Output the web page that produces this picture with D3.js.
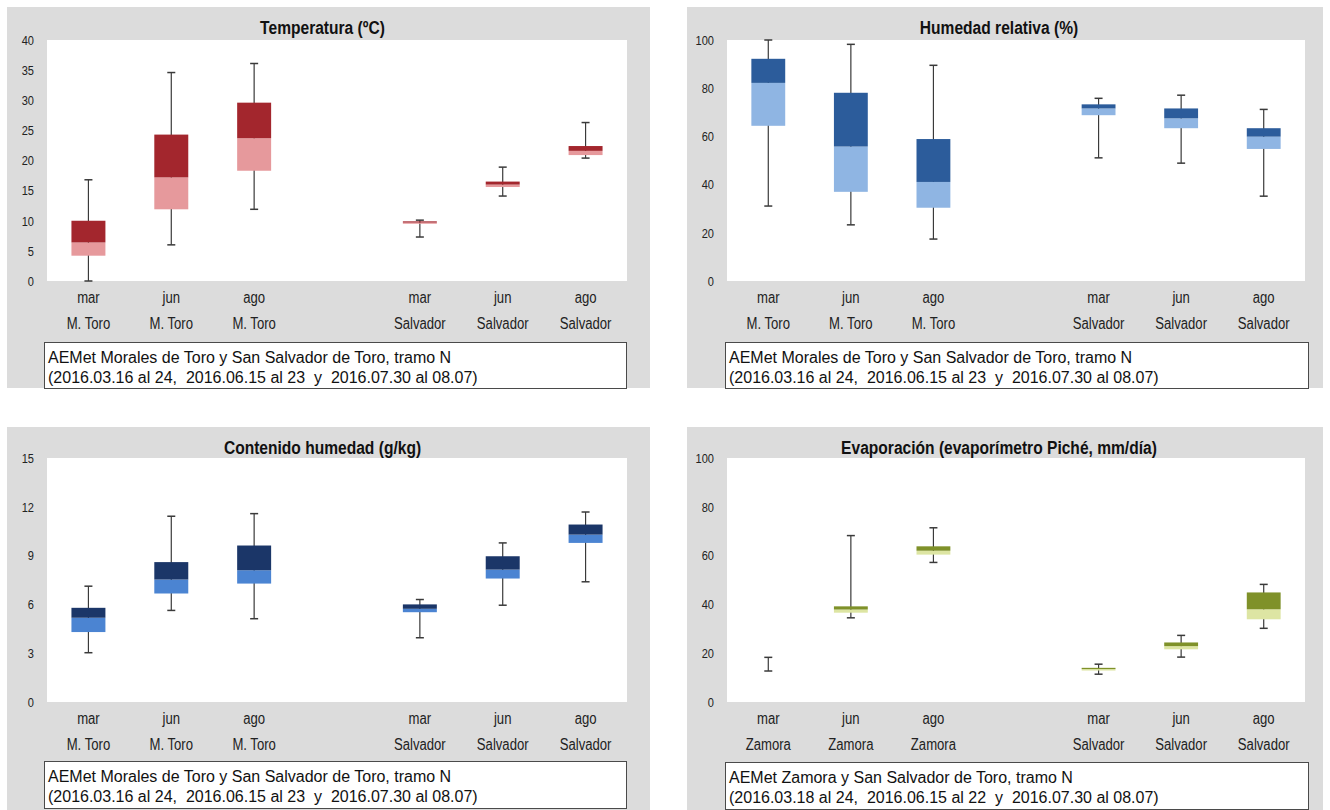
<!DOCTYPE html>
<html>
<head>
<meta charset="utf-8">
<script src="https://cdn.jsdelivr.net/npm/d3@7"></script>
<style>
  html, body { margin: 0; padding: 0; background: #ffffff; }
  svg { display: block; }
  text { font-family: "Liberation Sans", Arial, sans-serif; }
  .note { white-space: pre; }
</style>
</head>
<body>
<svg id="chart" width="1330" height="810"></svg>
<script>
// ---------- data ----------
const months = ["mar", "jun", "ago", "", "mar", "jun", "ago"];
const stationsToro = ["M. Toro", "M. Toro", "M. Toro", "", "Salvador", "Salvador", "Salvador"];
const stationsZamora = ["Zamora", "Zamora", "Zamora", "", "Salvador", "Salvador", "Salvador"];

// each entry: [min, q1, median, q3, max] ; null = empty slot
const temperatura = [
  [0.0, 4.2, 6.4, 10.0, 16.8],
  [6.0, 11.9, 17.2, 24.3, 34.6],
  [11.9, 18.3, 23.7, 29.6, 36.1],
  null,
  [7.3, 9.5, 9.7, 9.9, 10.1],
  [14.1, 15.6, 16.0, 16.5, 18.9],
  [20.4, 20.9, 21.6, 22.4, 26.3]
];
const humedadRelativa = [
  [31.1, 64.4, 82.2, 92.2, 100.0],
  [23.3, 37.0, 55.8, 78.1, 98.2],
  [17.4, 30.4, 41.1, 58.9, 89.5],
  null,
  [51.1, 68.8, 71.6, 73.3, 75.8],
  [48.9, 63.4, 67.5, 71.6, 77.1],
  [35.2, 54.8, 59.9, 63.4, 71.2]
];
const contenidoHumedad = [
  [3.03, 4.30, 5.18, 5.79, 7.12],
  [5.63, 6.67, 7.53, 8.60, 11.42],
  [5.12, 7.28, 8.10, 9.62, 11.58],
  null,
  [3.95, 5.52, 5.73, 6.00, 6.30],
  [5.95, 7.59, 8.14, 8.96, 9.78],
  [7.39, 9.78, 10.29, 10.91, 11.68]
];
const evaporacion = [
  [12.7, null, null, null, 18.3],
  [34.5, 36.6, 37.9, 39.2, 68.2],
  [57.2, 60.4, 62.0, 63.8, 71.4],
  null,
  [11.4, 12.9, 13.5, 14.0, 15.5],
  [18.4, 21.6, 22.9, 24.4, 27.3],
  [30.2, 33.9, 38.0, 44.9, 48.2]
];

const ticksTemp = [0, 5, 10, 15, 20, 25, 30, 35, 40];
const ticksHum = [0, 20, 40, 60, 80, 100];
const ticksCont = [0, 3, 6, 9, 12, 15];
const ticksEvap = [0, 20, 40, 60, 80, 100];

const titles = ["Temperatura (ºC)", "Humedad relativa (%)", "Contenido humedad (g/kg)", "Evaporación (evaporímetro Piché, mm/día)"];
const notesToro = ["AEMet Morales de Toro y San Salvador de Toro, tramo N",
                   "(2016.03.16 al 24,  2016.06.15 al 23  y  2016.07.30 al 08.07)"];
const notesZamora = ["AEMet Zamora y San Salvador de Toro, tramo N",
                     "(2016.03.18 al 24,  2016.06.15 al 22  y  2016.07.30 al 08.07)"];

// ---------- layout ----------
const panels = [
  { data: temperatura, ticks: ticksTemp, domain: [0, 40], title: titles[0], cats2: stationsToro, notes: notesToro,
    upper: "#a3262d", lower: "#e6999c",
    gray: { x: 7, y: 7, w: 643, h: 381 }, plot: { x: 47, y: 40, w: 580, h: 241 }, note: { x: 44, y: 342, w: 582, h: 46 } },
  { data: humedadRelativa, ticks: ticksHum, domain: [0, 100], title: titles[1], cats2: stationsToro, notes: notesToro,
    upper: "#2c5c9b", lower: "#8fb5e3",
    gray: { x: 687, y: 7, w: 636, h: 381 }, plot: { x: 727, y: 40, w: 578, h: 241 }, note: { x: 725, y: 342, w: 583, h: 46 } },
  { data: contenidoHumedad, ticks: ticksCont, domain: [0, 15], title: titles[2], cats2: stationsToro, notes: notesToro,
    upper: "#1b3668", lower: "#4b84d2",
    gray: { x: 7, y: 427, w: 643, h: 383 }, plot: { x: 47, y: 458, w: 580, h: 244 }, note: { x: 44, y: 761, w: 582, h: 47 } },
  { data: evaporacion, ticks: ticksEvap, domain: [0, 100], title: titles[3], cats2: stationsZamora, notes: notesZamora,
    upper: "#7f9129", lower: "#dde5a3",
    gray: { x: 687, y: 427, w: 636, h: 383 }, plot: { x: 727, y: 458, w: 578, h: 244 }, note: { x: 725, y: 762, w: 583, h: 47 } }
];

const NARROW = 0.82; // horizontal condensing (Arial Narrow look)
const svg = d3.select("#chart");

panels.forEach(p => {
  const g = svg.append("g");

  // background
  g.append("rect").attr("x", p.gray.x).attr("y", p.gray.y).attr("width", p.gray.w).attr("height", p.gray.h)
    .attr("fill", "#dcdcdc");
  g.append("rect").attr("x", p.plot.x).attr("y", p.plot.y).attr("width", p.plot.w).attr("height", p.plot.h)
    .attr("fill", "#ffffff");

  const x = d3.scaleBand().domain(d3.range(months.length)).range([p.plot.x, p.plot.x + p.plot.w]).padding(0);
  const y = d3.scaleLinear().domain(p.domain).range([p.plot.y + p.plot.h, p.plot.y]);

  // y axis (labels only)
  const yAxis = d3.axisLeft(y).tickValues(p.ticks).tickSize(0).tickPadding(0).tickFormat(d3.format("d"));
  const ya = g.append("g").attr("transform", `translate(${p.plot.x - 13},0)`).call(yAxis);
  ya.select(".domain").remove();
  ya.selectAll("text").attr("x", 0).attr("transform", `scale(${NARROW},1)`)
    .style("font-size", "13.5px").attr("fill", "#222");

  // x axis: two rows of category labels
  const xAxis1 = d3.axisBottom(x).tickSize(0).tickPadding(0).tickFormat(i => months[i]);
  const xa1 = g.append("g").attr("transform", `translate(0,${p.plot.y + p.plot.h + 11})`).call(xAxis1);
  xa1.select(".domain").remove();
  xa1.selectAll("text").attr("transform", `scale(${NARROW},1)`).style("font-size", "16px").attr("fill", "#222");

  const xAxis2 = d3.axisBottom(x).tickSize(0).tickPadding(0).tickFormat(i => p.cats2[i]);
  const xa2 = g.append("g").attr("transform", `translate(0,${p.plot.y + p.plot.h + 37})`).call(xAxis2);
  xa2.select(".domain").remove();
  xa2.selectAll("text").attr("transform", `scale(${NARROW},1)`).style("font-size", "16px").attr("fill", "#222");

  // title
  g.append("g").attr("transform", `translate(${p.gray.x + p.gray.w / 2 - 6},${p.gray.y + 27})`)
    .append("text").attr("transform", `scale(${NARROW},1)`)
    .attr("text-anchor", "middle").style("font-size", "19px").style("font-weight", "bold").attr("fill", "#111")
    .text(p.title);

  // boxes
  const bw = x.bandwidth() * 0.41;
  const capW = 8;
  const items = p.data.map((d, i) => ({ d, i })).filter(o => o.d);

  const box = g.selectAll(".bx").data(items).enter().append("g").attr("class", "bx");
  const cx = o => x(o.i) + x.bandwidth() / 2;

  // whisker
  box.append("line").attr("x1", cx).attr("x2", cx)
    .attr("y1", o => y(o.d[0])).attr("y2", o => y(o.d[4]))
    .attr("stroke", "#3a3a3a").attr("stroke-width", 1.2);
  box.append("line").attr("x1", o => cx(o) - capW / 2).attr("x2", o => cx(o) + capW / 2)
    .attr("y1", o => y(o.d[4])).attr("y2", o => y(o.d[4]))
    .attr("stroke", "#3a3a3a").attr("stroke-width", 1.5);
  box.append("line").attr("x1", o => cx(o) - capW / 2).attr("x2", o => cx(o) + capW / 2)
    .attr("y1", o => y(o.d[0])).attr("y2", o => y(o.d[0]))
    .attr("stroke", "#3a3a3a").attr("stroke-width", 1.5);

  const withBox = box.filter(o => o.d[1] != null);
  // lower part (q1 -> median)
  withBox.append("rect").attr("x", o => cx(o) - bw / 2).attr("width", bw)
    .attr("y", o => y(o.d[2])).attr("height", o => Math.max(1, y(o.d[1]) - y(o.d[2])))
    .attr("fill", p.lower);
  // upper part (median -> q3)
  withBox.append("rect").attr("x", o => cx(o) - bw / 2).attr("width", bw)
    .attr("y", o => y(o.d[3])).attr("height", o => Math.max(1, y(o.d[2]) - y(o.d[3])))
    .attr("fill", p.upper);

  // note box
  g.append("rect").attr("x", p.note.x + 0.5).attr("y", p.note.y + 0.5).attr("width", p.note.w).attr("height", p.note.h)
    .attr("fill", "#ffffff").attr("stroke", "#4a4a4a").attr("stroke-width", 1);
  g.selectAll(".nt").data(p.notes).enter().append("text").attr("class", "note")
    .attr("x", p.note.x + 4).attr("y", (d, i) => p.note.y + 21 + i * 20)
    .style("font-size", "16px").attr("fill", "#111").text(d => d);
});
</script>
</body>
</html>
